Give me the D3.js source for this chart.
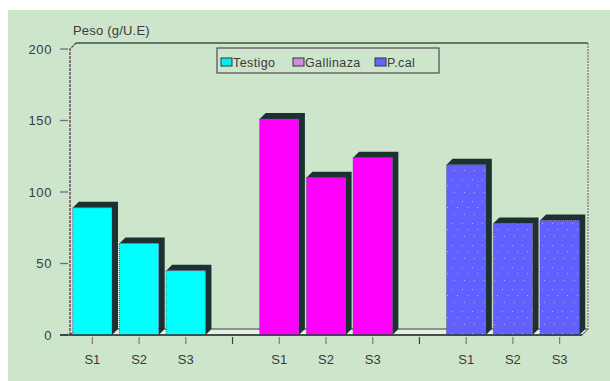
<!DOCTYPE html>
<html>
<head>
<meta charset="utf-8">
<script src="https://cdn.jsdelivr.net/npm/d3@7"></script>
<style>
  html, body { margin: 0; padding: 0; background: #ffffff; }
  svg { display: block; }
  text { font-family: "Liberation Sans", Arial, sans-serif; fill: #3a3a3a; }
</style>
</head>
<body>
<svg id="chart" width="610" height="381"></svg>
<script>
// Treatments (groups), sampling subcategories and values (g/U.E)
const categories = ["Testigo", "Gallinaza", "P.cal"];
const subLabels = ["S1", "S2", "S3"];
const testigo = [89, 64, 45];
const gallinaza = [151, 110, 124];
const pcal = [119, 78, 80];
const yTicks = [0, 50, 100, 150, 200];
const yTitle = "Peso (g/U.E)";

const seriesValues = [testigo, gallinaza, pcal];
const colors = ["#00ffff", "#ff00ff", "#6161ff"];
const legendColors = ["#00f0f0", "#d28ed2", "#6464ff"];

const svg = d3.select("#chart");
const W = 610, H = 381;

// panel background
svg.append("rect").attr("x", 8).attr("y", 10).attr("width", W - 8).attr("height", H - 10)
  .attr("fill", "#cde5cb");

// slots: three bars per group, one empty slot between groups
const slots = [];
categories.forEach((c, gi) => {
  subLabels.forEach((s, si) => slots.push({ key: c + "|" + s, label: s, group: gi, sub: si }));
  if (gi < categories.length - 1) slots.push({ key: "gap" + gi, label: "", group: -1 });
});

const x = d3.scaleBand().domain(slots.map(d => d.key)).range([69, 583])
  .paddingInner(0.16).paddingOuter(0.08);
const y = d3.scaleLinear().domain([0, 200]).range([335, 49]);

const dx = 6, dy = -6;          // 3D depth offset
const x0 = 70, x1 = 582, base = y(0);

// defs: sparse light speckle for the third series
const defs = svg.append("defs");
const pat = defs.append("pattern").attr("id", "speckle").attr("patternUnits", "userSpaceOnUse")
  .attr("width", 10).attr("height", 22);
pat.append("rect").attr("width", 10).attr("height", 22).attr("fill", colors[2]);
[[2, 3], [7, 9], [4, 16]].forEach(([px, py]) => {
  pat.append("rect").attr("x", px).attr("y", py).attr("width", 1).attr("height", 1)
    .attr("fill", "#c2a8f0");
});

// floor of the 3D box
svg.append("path")
  .attr("d", `M${x0},${base} L${x0 + dx},${base + dy} L${x1 + dx},${base + dy} L${x1},${base} Z`)
  .attr("fill", "#e4efe2").attr("stroke", "#3b3f45").attr("stroke-width", 1);

// back frame: top and right walls
svg.append("path")
  .attr("d", `M${x0 + dx},${y(200) + dy} H${x1 + dx}`)
  .attr("fill", "none").attr("stroke", "#3c5252").attr("stroke-width", 1.6);
svg.append("path")
  .attr("d", `M${x1 + dx},${y(200) + dy} V${base + dy} L${x1},${base}`)
  .attr("fill", "none").attr("stroke", "#8a6e80").attr("stroke-width", 1.2)
  .attr("stroke-dasharray", "2,1");

// bars
const bars = [];
slots.filter(d => d.group >= 0).forEach(d => {
  bars.push({ key: d.key, group: d.group, value: seriesValues[d.group][d.sub] });
});

const g = svg.append("g");
bars.forEach(b => {
  const bx = x(b.key), bw = x.bandwidth(), top = y(b.value);
  // top face and side face (shadow)
  g.append("path")
    .attr("d", `M${bx},${top} L${bx + dx},${top + dy} L${bx + bw + dx},${top + dy} L${bx + bw + dx},${base + dy} L${bx + bw},${base} L${bx + bw},${top} Z`)
    .attr("fill", "#1c3232");
  // front face
  g.append("rect")
    .attr("x", bx).attr("y", top).attr("width", bw).attr("height", base - top)
    .attr("fill", b.group === 2 ? "url(#speckle)" : colors[b.group])
    .attr("stroke", "#5a3a6a").attr("stroke-width", 0.8).attr("stroke-dasharray", "1,1");
});

// left axis wall line
svg.append("path")
  .attr("d", `M${x0},${base} V${y(200)} L${x0 + dx},${y(200) + dy}`)
  .attr("fill", "none").attr("stroke", "#5a3a52").attr("stroke-width", 1.3)
  .attr("stroke-dasharray", "3,1");

// x axis baseline
svg.append("line").attr("x1", 60).attr("x2", x1).attr("y1", base).attr("y2", base)
  .attr("stroke", "#2c3a3a").attr("stroke-width", 1.5);

// y ticks and labels
yTicks.forEach(v => {
  svg.append("line").attr("x1", 60).attr("x2", 68).attr("y1", y(v)).attr("y2", y(v))
    .attr("stroke", v === 0 ? "#2c3a3a" : "#7d6676").attr("stroke-width", 1.3);
  svg.append("text").attr("x", 52).attr("y", y(v)).attr("dy", "0.36em")
    .attr("text-anchor", "end").attr("font-size", 13).attr("letter-spacing", 0.6)
    .text(v);
});

// x ticks and labels
slots.forEach(d => {
  const cx = x(d.key) + x.bandwidth() / 2;
  svg.append("line").attr("x1", cx).attr("x2", cx).attr("y1", base + 2).attr("y2", base + 9)
    .attr("stroke", d.group < 0 ? "#3a4444" : "#8d7080").attr("stroke-width", 1.2);
  if (d.label) {
    svg.append("text").attr("x", cx).attr("y", 364).attr("text-anchor", "middle")
      .attr("font-size", 13).text(d.label);
  }
});

// axis title
svg.append("text").attr("x", 73).attr("y", 35).attr("font-size", 13).attr("letter-spacing", 0.2)
  .text(yTitle);

// legend
const lg = svg.append("g");
lg.append("rect").attr("x", 217).attr("y", 48).attr("width", 222).attr("height", 25)
  .attr("fill", "none").attr("stroke", "#4a3a4a").attr("stroke-width", 1.1);
const legendX = [221, 293, 375];
categories.forEach((c, i) => {
  lg.append("rect").attr("x", legendX[i]).attr("y", 58).attr("width", 11).attr("height", 8)
    .attr("fill", legendColors[i]).attr("stroke", "#2a3a3a").attr("stroke-width", 1);
  lg.append("text").attr("x", legendX[i] + 12).attr("y", 66.5).attr("font-size", 12.5)
    .attr("letter-spacing", 0.4).text(c);
});
</script>
</body>
</html>
